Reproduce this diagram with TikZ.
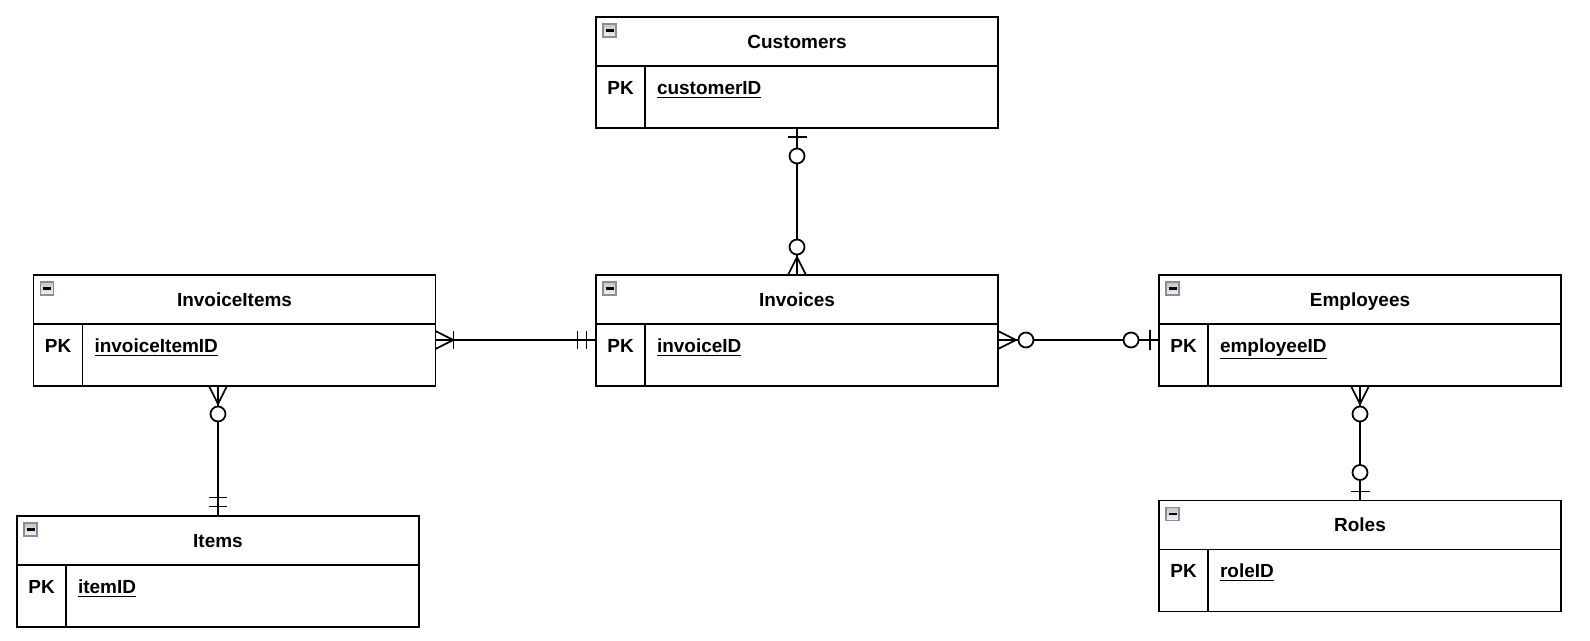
\documentclass[tikz,border=0pt]{standalone}
\usepackage{fontspec}
\setmainfont{Liberation Sans}
\usetikzlibrary{positioning}
\definecolor{iconedge}{RGB}{135,140,160}

\begin{document}
\begin{tikzpicture}[x=0.02cm, y=-0.02cm, line width=1pt,
    tablehead/.style={draw, outer sep=0pt, inner sep=0pt,
      minimum width=8.04cm, minimum height=0.98cm,
      text height=7.7pt, text depth=0pt,
      font=\bfseries\fontsize{10.8}{13}\selectfont},
    tablebody/.style={draw, outer sep=0pt, inner sep=0pt,
      minimum width=8.04cm, minimum height=1.24cm},
    keyrow/.style={outer sep=0pt, inner sep=0pt,
      minimum width=8.04cm, minimum height=0.64cm},
    pkcell/.style={outer sep=0pt, inner sep=0pt,
      minimum width=0.98cm, minimum height=0.86cm,
      text height=7.7pt, text depth=0pt,
      font=\bfseries\fontsize{10.8}{13}\selectfont},
    keyfield/.style={outer sep=0pt, inner xsep=0.24cm, inner ysep=0pt,
      text height=7.7pt, text depth=0pt,
      font=\bfseries\fontsize{10.8}{13}\selectfont},
    pics/collapse/.style={code={
      \draw[iconedge, line width=0.8pt, top color=gray!45, bottom color=gray!10]
        (7,7) rectangle (20,20);
      \draw[black, line width=1.3pt] (9.5,13.5) -- (17.5,13.5);
    }},
    pics/zeroone/.style={code={
      \draw (9,-9.5) -- (9,9.5);
      \draw[fill=white] (28,0) circle[radius=7.5];
    }},
    pics/zeromany/.style={code={
      \draw (0,-9) -- (18,0) -- (0,9);
      \draw[fill=white] (28,0) circle[radius=7.5];
    }},
    pics/onemany/.style={code={
      \draw (0,-9) -- (18,0) -- (0,9);
      \draw (18,-9) -- (18,9);
    }},
    pics/oneone/.style={code={
      \draw (9.5,-9) -- (9.5,9);
      \draw (18.5,-9) -- (18.5,9);
    }}]
  \useasboundingbox[fill=white] (0,0) rectangle (1590,640);

  % Customers
  \node[tablehead] (cust) at (797,41.5) {Customers};
  \node[tablebody, below=0pt of cust] (custbody) {};
  \node[keyrow, below=0pt of cust] (custrow) {};
  \node[pkcell, anchor=north west] (custpk) at (cust.south west) {PK};
  \node[keyfield, right=0pt of custpk] (custkey) {\underline{customerID}};
  \draw (custpk.north east) -- (custpk.north east |- custbody.south);
  \pic at (cust.north west) {collapse};

  % Invoices
  \node[tablehead] (inv) at (797,299.5) {Invoices};
  \node[tablebody, below=0pt of inv] (invbody) {};
  \node[keyrow, below=0pt of inv] (invrow) {};
  \node[pkcell, anchor=north west] (invpk) at (inv.south west) {PK};
  \node[keyfield, right=0pt of invpk] (invkey) {\underline{invoiceID}};
  \draw (invpk.north east) -- (invpk.north east |- invbody.south);
  \pic at (inv.north west) {collapse};

  % InvoiceItems
  \node[tablehead] (invitm) at (234.5,299.5) {InvoiceItems};
  \node[tablebody, below=0pt of invitm] (invitmbody) {};
  \node[keyrow, below=0pt of invitm] (invitmrow) {};
  \node[pkcell, anchor=north west] (invitmpk) at (invitm.south west) {PK};
  \node[keyfield, right=0pt of invitmpk] (invitmkey) {\underline{invoiceItemID}};
  \draw (invitmpk.north east) -- (invitmpk.north east |- invitmbody.south);
  \pic at (invitm.north west) {collapse};

  % Items
  \node[tablehead] (itm) at (218,540.5) {Items};
  \node[tablebody, below=0pt of itm] (itmbody) {};
  \node[pkcell, anchor=north west] (itmpk) at (itm.south west) {PK};
  \node[keyfield, right=0pt of itmpk] (itmkey) {\underline{itemID}};
  \draw (itmpk.north east) -- (itmpk.north east |- itmbody.south);
  \pic at (itm.north west) {collapse};

  % Employees
  \node[tablehead] (emp) at (1360,299.5) {Employees};
  \node[tablebody, below=0pt of emp] (empbody) {};
  \node[keyrow, below=0pt of emp] (emprow) {};
  \node[pkcell, anchor=north west] (emppk) at (emp.south west) {PK};
  \node[keyfield, right=0pt of emppk] (empkey) {\underline{employeeID}};
  \draw (emppk.north east) -- (emppk.north east |- empbody.south);
  \pic at (emp.north west) {collapse};

  % Roles
  \node[tablehead] (role) at (1360,525) {Roles};
  \node[tablebody, below=0pt of role] (rolebody) {};
  \node[pkcell, anchor=north west] (rolepk) at (role.south west) {PK};
  \node[keyfield, right=0pt of rolepk] (rolekey) {\underline{roleID}};
  \draw (rolepk.north east) -- (rolepk.north east |- rolebody.south);
  \pic at (role.north west) {collapse};

  % relations
  \coordinate (invitmfoot) at (itm.north |- invitmbody.south);
  \draw (custbody.south) -- (inv.north);
  \draw (invitmrow.east) -- (invrow.west);
  \draw (invrow.east) -- (emprow.west);
  \draw (invitmfoot) -- (itm.north);
  \draw (empbody.south) -- (role.north);

  \pic[rotate=-90] at (custbody.south) {zeroone};
  \pic[rotate=90] at (inv.north) {zeromany};
  \pic at (invitmrow.east) {onemany};
  \pic[rotate=180] at (invrow.west) {oneone};
  \pic at (invrow.east) {zeromany};
  \pic[rotate=180] at (emprow.west) {zeroone};
  \pic[rotate=-90] at (invitmfoot) {zeromany};
  \pic[rotate=90] at (itm.north) {oneone};
  \pic[rotate=-90] at (empbody.south) {zeromany};
  \pic[rotate=90] at (role.north) {zeroone};
\end{tikzpicture}
\end{document}
